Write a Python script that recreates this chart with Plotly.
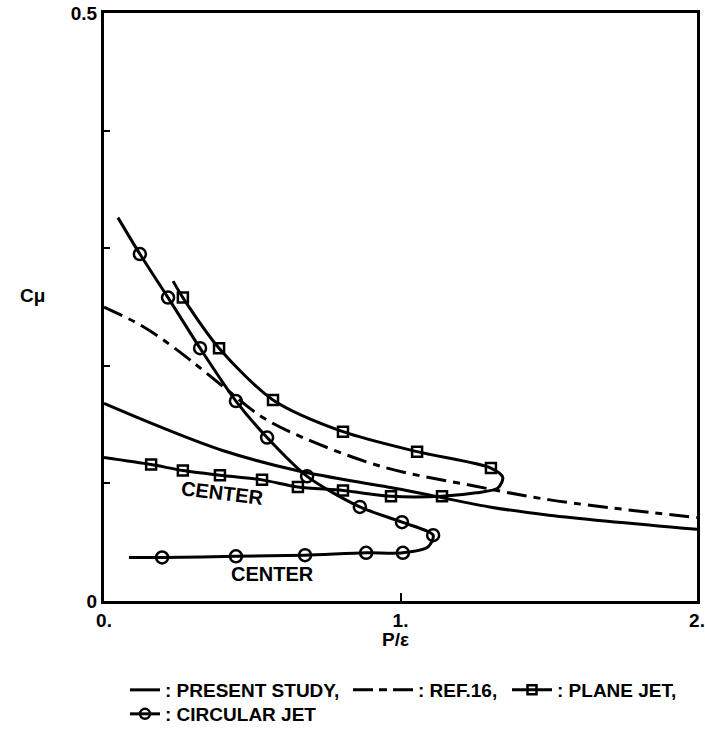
import plotly.graph_objects as go

# ---------------- data ----------------
# Present study (solid line)
ps_x = [0.0, 0.19, 0.40, 0.65, 1.0, 1.3, 1.5, 2.0]
ps_y = [0.168, 0.148, 0.128, 0.111, 0.095, 0.080, 0.073, 0.061]

# Ref. 16 (dash-dot line)
ref_x = [0.0, 0.121, 0.189, 0.290, 0.418, 0.536, 0.671, 0.941, 1.245, 1.504, 2.0]
ref_y = [0.250, 0.235, 0.224, 0.205, 0.179, 0.156, 0.139, 0.114, 0.098, 0.086, 0.071]

# Plane jet (edge branch, loop, then centre branch)
pl_x = [0.233, 0.266, 0.388, 0.570, 0.806, 1.056, 1.305, 1.345, 1.328, 1.255,
        1.140, 0.968, 0.806, 0.654, 0.533, 0.391, 0.266, 0.159, 0.0]
pl_y = [0.272, 0.258, 0.215, 0.171, 0.144, 0.127, 0.113, 0.105, 0.096, 0.092,
        0.089, 0.089, 0.094, 0.097, 0.103, 0.107, 0.111, 0.116, 0.122]
pl_mark = [0, 1, 1, 1, 1, 1, 1, 0, 0, 0, 1, 1, 1, 1, 1, 1, 1, 1, 0]

# Circular jet (edge branch, loop, then centre branch)
ci_x = [0.047, 0.121, 0.216, 0.324, 0.445, 0.550, 0.685, 0.863, 1.005, 1.110,
        1.093, 1.008, 0.884, 0.678, 0.445, 0.196, 0.084]
ci_y = [0.326, 0.295, 0.258, 0.215, 0.170, 0.139, 0.106, 0.080, 0.067, 0.056,
        0.046, 0.041, 0.041, 0.039, 0.038, 0.037, 0.037]
ci_mark = [0, 1, 1, 1, 1, 1, 1, 1, 1, 1, 0, 1, 1, 1, 1, 1, 0]

x_tickvals = [0, 1, 2]
x_ticktext = ["0.", "1.", "2."]
y_tickvals = [0, 0.1, 0.2, 0.3, 0.4, 0.5]
y_ticktext = ["0", "", "", "", "", "0.5"]

center_labels = [("CENTER", 0.400, 0.092, 7), ("CENTER", 0.567, 0.023, 0)]

FONT = "Liberation Sans, Arial, sans-serif"
LW = 3
DASHDOT = "20px,7px,7px,7px"
LEG_FONT = dict(family=FONT, size=19, color="black", weight="bold")


def pick(vals, mask):
    return [v for v, m in zip(vals, mask) if m]


fig = go.Figure()

# curves
fig.add_trace(go.Scatter(x=ps_x, y=ps_y, mode="lines", showlegend=False,
                         line=dict(color="black", width=LW, shape="spline", smoothing=1.0)))
fig.add_trace(go.Scatter(x=ref_x, y=ref_y, mode="lines", showlegend=False,
                         line=dict(color="black", width=LW, dash=DASHDOT, shape="spline", smoothing=1.0)))
fig.add_trace(go.Scatter(x=pl_x, y=pl_y, mode="lines", showlegend=False,
                         line=dict(color="black", width=LW, shape="spline", smoothing=0.8)))
fig.add_trace(go.Scatter(x=pick(pl_x, pl_mark), y=pick(pl_y, pl_mark), mode="markers", showlegend=False,
                         marker=dict(symbol="square-open", size=10, color="black", line=dict(width=2.5))))
fig.add_trace(go.Scatter(x=ci_x, y=ci_y, mode="lines", showlegend=False,
                         line=dict(color="black", width=LW, shape="spline", smoothing=0.8)))
fig.add_trace(go.Scatter(x=pick(ci_x, ci_mark), y=pick(ci_y, ci_mark), mode="markers", showlegend=False,
                         marker=dict(symbol="circle-open", size=12, color="black", line=dict(width=2.5))))

# legend entries (one legend each so that every key can have its own width)
fig.add_trace(go.Scatter(x=[None], y=[None], mode="lines", name=": PRESENT STUDY,",
                         line=dict(color="black", width=LW), legend="legend"))
fig.add_trace(go.Scatter(x=[None], y=[None], mode="lines", name=": REF.16,",
                         line=dict(color="black", width=LW, dash="20px,6px,8px,6px"), legend="legend2"))
fig.add_trace(go.Scatter(x=[None], y=[None], mode="lines+markers", name=": PLANE JET,",
                         line=dict(color="black", width=LW),
                         marker=dict(symbol="square-open", size=9, color="black", line=dict(width=2.5)),
                         legend="legend3"))
fig.add_trace(go.Scatter(x=[None], y=[None], mode="lines+markers", name=": CIRCULAR JET",
                         line=dict(color="black", width=LW),
                         marker=dict(symbol="circle-open", size=10, color="black", line=dict(width=2.5)),
                         legend="legend4"))

for txt, x, y, ang in center_labels:
    fig.add_annotation(x=x, y=y, xref="x", yref="y", text=txt, showarrow=False,
                       textangle=ang, xanchor="center", yanchor="middle",
                       font=dict(family=FONT, size=20, color="black", weight="bold"))

# axis titles as annotations
fig.add_annotation(x=0.491, y=-0.066, xref="paper", yref="paper", text="P/ε", showarrow=False,
                   xanchor="center", yanchor="middle",
                   font=dict(family=FONT, size=19, color="black", weight="bold"))
fig.add_annotation(x=-0.12, y=0.519, xref="paper", yref="paper", text="Cμ", showarrow=False,
                   xanchor="center", yanchor="middle",
                   font=dict(family=FONT, size=19, color="black", weight="bold"))

fig.update_xaxes(range=[0, 2], tickvals=x_tickvals, ticktext=x_ticktext, ticks="inside",
                 ticklen=8, tickwidth=2, tickcolor="black", showline=True, linewidth=3,
                 linecolor="black", mirror=True, showgrid=False, zeroline=False, automargin=False,
                 tickfont=dict(family=FONT, size=19, color="black", weight="bold"))
fig.update_yaxes(range=[0, 0.5], tickvals=y_tickvals, ticktext=y_ticktext, ticks="inside",
                 ticklen=6, tickwidth=2, tickcolor="black", showline=True, linewidth=3,
                 linecolor="black", mirror=True, showgrid=False, zeroline=False, automargin=False,
                 tickfont=dict(family=FONT, size=19, color="black", weight="bold"))


def leg(x_px, y_px, width):
    return dict(orientation="h", xref="container", yref="container",
                x=x_px / 705, y=1 - y_px / 734, xanchor="left", yanchor="middle",
                bgcolor="rgba(0,0,0,0)", font=LEG_FONT, itemwidth=width)


fig.update_layout(
    width=705, height=734,
    margin=dict(l=104, r=8, t=13, b=133, autoexpand=False),
    paper_bgcolor="white", plot_bgcolor="white",
    font=dict(family=FONT, color="black"),
    legend=leg(125, 690, 30),
    legend2=leg(348, 690, 60),
    legend3=leg(507, 690, 40),
    legend4=leg(125, 714, 30),
)

fig.write_html("out.html")
